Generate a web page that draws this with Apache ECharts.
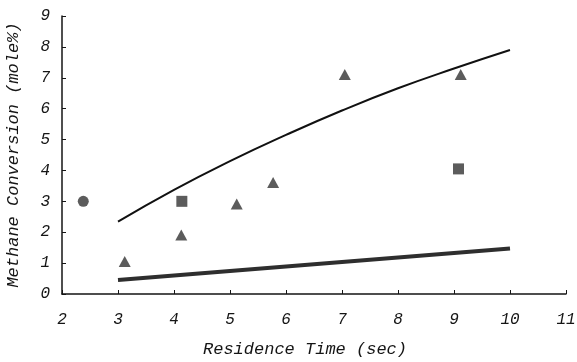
<!DOCTYPE html>
<html>
<head>
<meta charset="utf-8">
<script src="https://cdn.jsdelivr.net/npm/echarts@6/dist/echarts.min.js"></script>
<style>
  html, body { margin: 0; padding: 0; background: #fff; }
  #chart { width: 577px; height: 362px; }
</style>
</head>
<body>
<div id="chart"></div>
<script>
// measured points (residence time sec, methane conversion mole%)
const circlePts = [[2.38, 3.0]];
const squarePts = [[4.14, 3.0], [9.08, 4.05]];
const trianglePts = [[3.12, 1.05], [4.13, 1.91], [5.12, 2.91], [5.77, 3.61], [7.05, 7.11], [9.12, 7.11]];

// model curves
const upperX = [3, 4, 5, 6, 7, 8, 9, 10];
const upperY = [2.34, 3.37, 4.3, 5.15, 5.94, 6.66, 7.3, 7.9];
const lowerX = [3, 10];
const lowerY = [0.45, 1.47];

const pair = (xs, ys) => xs.map((x, i) => [x, ys[i]]);

const font = 'Liberation Mono, Courier New, monospace';
const ink = '#151515';
const markColor = '#333';

const chart = echarts.init(document.getElementById('chart'));

chart.setOption({
    animation: false,
    grid: { left: 62, right: 11, top: 16, bottom: 68, outerBoundsMode: 'none' },
    xAxis: {
        type: 'value',
        min: 2,
        max: 11,
        interval: 1,
        name: 'Residence Time (sec)',
        nameLocation: 'middle',
        nameGap: 47,
        nameTextStyle: { fontFamily: font, fontStyle: 'italic', fontSize: 17, color: ink, padding: [0, 18, 0, 0] },
        axisLine: { lineStyle: { color: ink, width: 1.5 } },
        axisTick: { inside: true, length: 4, lineStyle: { color: ink } },
        axisLabel: { margin: 18, fontFamily: font, fontStyle: 'italic', fontSize: 16, color: ink },
        splitLine: { show: false }
    },
    yAxis: {
        type: 'value',
        min: 0,
        max: 9,
        interval: 1,
        name: 'Methane Conversion (mole%)',
        nameLocation: 'middle',
        nameGap: 40,
        nameRotate: 90,
        nameTextStyle: { fontFamily: font, fontStyle: 'italic', fontSize: 17, color: ink },
        axisLine: { show: true, lineStyle: { color: ink, width: 1.5 } },
        axisTick: { show: true, inside: true, length: 4, lineStyle: { color: ink } },
        axisLabel: { margin: 12, fontFamily: font, fontStyle: 'italic', fontSize: 16, color: ink },
        splitLine: { show: false }
    },
    series: [
        {
            name: 'upper',
            type: 'line',
            smooth: true,
            symbol: 'none',
            data: pair(upperX, upperY),
            lineStyle: { color: '#111', width: 2 }
        },
        {
            name: 'lower',
            type: 'line',
            symbol: 'none',
            data: pair(lowerX, lowerY),
            lineStyle: { color: '#2e2e2e', width: 4 }
        },
        {
            name: 'circle',
            type: 'scatter',
            symbol: 'circle',
            symbolSize: 11,
            data: circlePts,
            itemStyle: { color: markColor }
        },
        {
            name: 'square',
            type: 'scatter',
            symbol: 'rect',
            symbolSize: 11,
            data: squarePts,
            itemStyle: { color: markColor }
        },
        {
            name: 'triangle',
            type: 'scatter',
            symbol: 'triangle',
            symbolSize: [12, 11],
            data: trianglePts,
            itemStyle: { color: markColor }
        }
    ]
});
</script>
</body>
</html>
